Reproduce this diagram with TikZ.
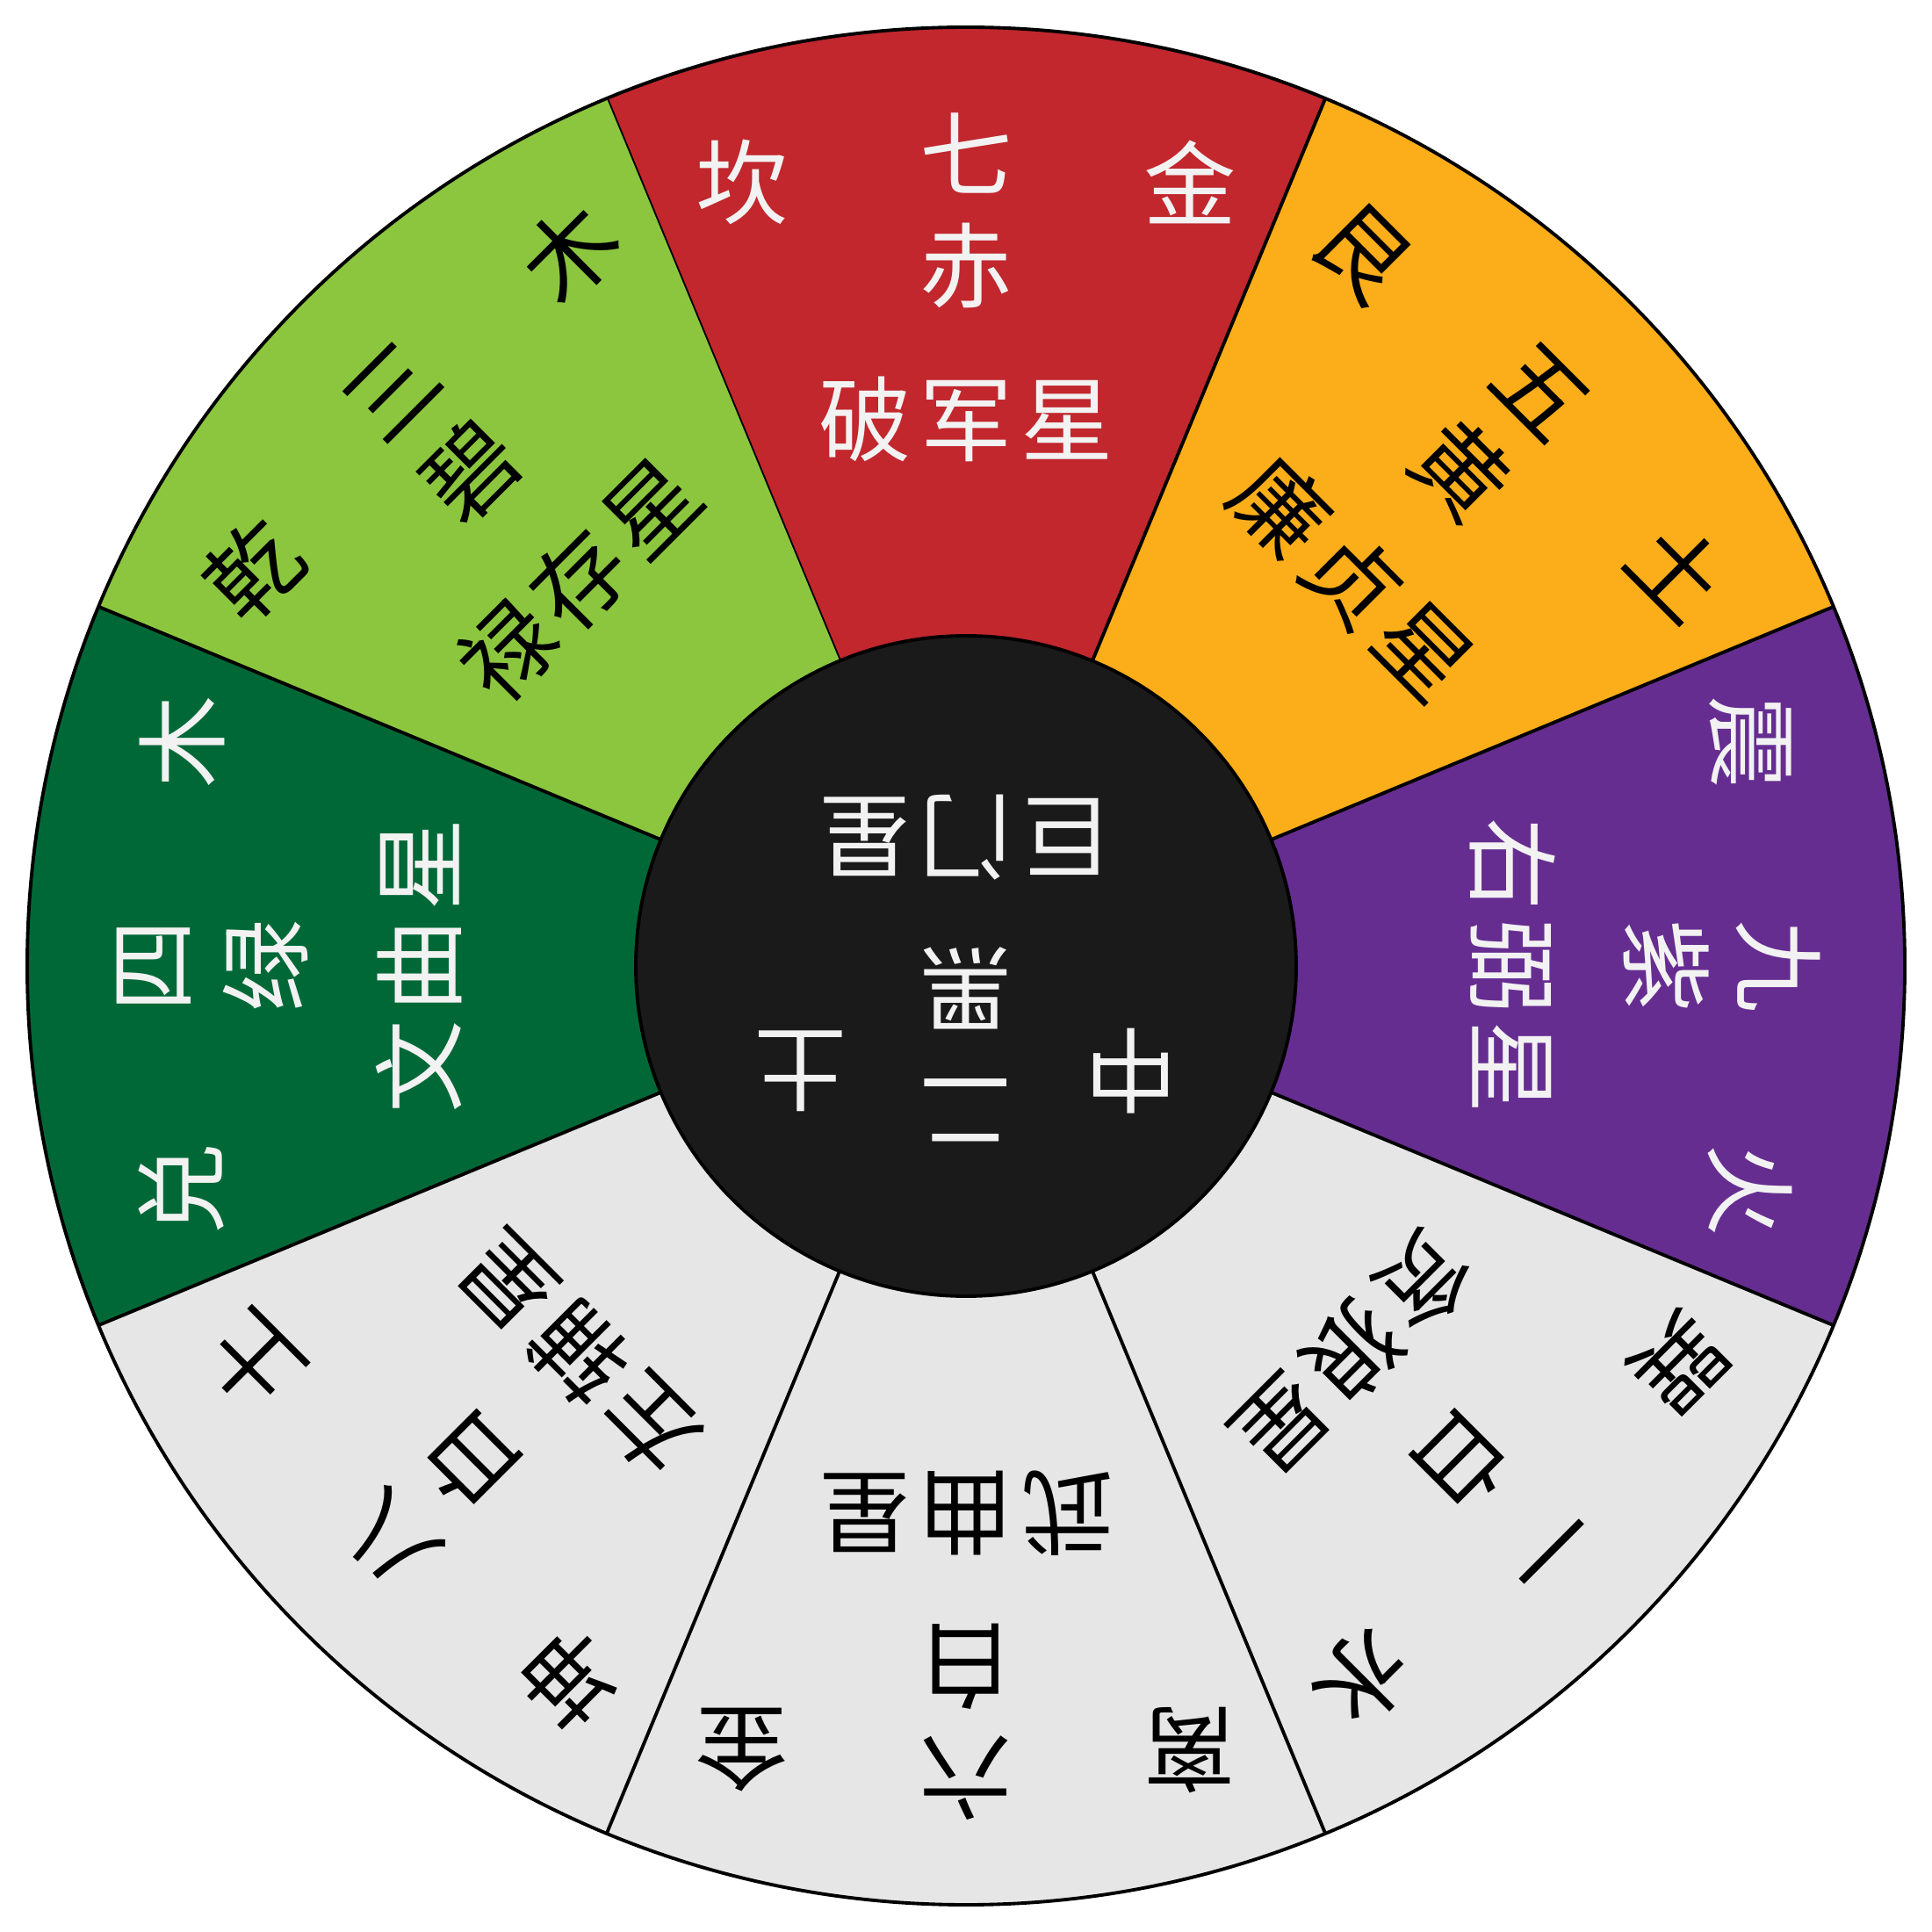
\documentclass[tikz,border=0pt]{standalone}
\usepackage{fontspec}
\newfontfamily\cjk{Noto Sans CJK SC}
\usetikzlibrary{calc}

\definecolor{kanred}{HTML}{C1272D}
\definecolor{genorange}{HTML}{FBAE1A}
\definecolor{zhenpurple}{HTML}{662D91}
\definecolor{palegray}{HTML}{E6E6E6}
\definecolor{duigreen}{HTML}{006837}
\definecolor{qiangreen}{HTML}{8CC63F}
\definecolor{coreblack}{HTML}{1A1A1A}
\definecolor{ink}{HTML}{F2F2F2}

\newcommand{\Rout}{10.69}
\newcommand{\Rin}{3.76}
\newcommand{\trio}[3]{#1\kern2.8pt#2\kern2.8pt#3}

\begin{document}
\begin{tikzpicture}[
  glyph/.style={font=\cjk\fontsize{30}{30}\selectfont, inner sep=0pt},
  wtxt/.style={glyph, text=ink},
  btxt/.style={glyph, text=black},
  rim/.style={line width=1.1pt}]

\useasboundingbox (-11,-11) rectangle (11,11);
\coordinate (O) at (0,0);

% ===== Secteur du haut : kan =====
\begin{scope}[rotate=0, transform shape]
  \fill[kanred] (O) -- (67.5:\Rout) arc (67.5:112.5:\Rout) -- cycle;
  \draw[rim] (O) -- (112.5:\Rout);
  \node[wtxt] (kan-pos) at (-2.55,8.93) {坎};
  \node[wtxt] (kan-num) at (0,9.25) {七};
  \node[wtxt] (kan-el) at (2.55,8.93) {金};
  \node[wtxt] (kan-col) at (0,7.98) {赤};
  \node[wtxt] (kan-star) at (0,6.23) {\trio{破}{军}{星}};
\end{scope}

% ===== gen =====
\begin{scope}[rotate=-45, transform shape]
  \fill[genorange] (O) -- (67.5:\Rout) arc (67.5:112.5:\Rout) -- cycle;
  \draw[rim] (O) -- (112.5:\Rout);
  \node[btxt] (gen-pos) at (-2.55,8.93) {艮};
  \node[btxt] (gen-num) at (0,9.25) {五};
  \node[btxt] (gen-el) at (2.55,8.93) {土};
  \node[btxt] (gen-col) at (0,7.98) {黄};
  \node[btxt] (gen-star) at (0,6.23) {\trio{廉}{贞}{星}};
\end{scope}

% ===== zhen =====
\begin{scope}[rotate=-90, transform shape]
  \fill[zhenpurple] (O) -- (67.5:\Rout) arc (67.5:112.5:\Rout) -- cycle;
  \draw[rim] (O) -- (112.5:\Rout);
  \node[wtxt] (zhen-pos) at (-2.55,8.93) {震};
  \node[wtxt] (zhen-num) at (0,9.25) {九};
  \node[wtxt] (zhen-el) at (2.55,8.93) {火};
  \node[wtxt] (zhen-col) at (0,7.98) {紫};
  \node[wtxt] (zhen-star) at (0,6.23) {\trio{右}{弼}{星}};
\end{scope}

% ===== xun =====
\begin{scope}[rotate=-135, transform shape]
  \fill[palegray] (O) -- (67.5:\Rout) arc (67.5:112.5:\Rout) -- cycle;
  \draw[rim] (O) -- (112.5:\Rout);
  \node[btxt] (xun-pos) at (-2.55,8.93) {巽};
  \node[btxt] (xun-num) at (0,9.25) {一};
  \node[btxt] (xun-el) at (2.55,8.93) {水};
  \node[btxt] (xun-col) at (0,7.98) {白};
  \node[btxt] (xun-star) at (0,6.23) {\trio{贪}{狼}{星}};
\end{scope}

% ===== li =====
\begin{scope}[rotate=180, transform shape]
  \fill[palegray] (O) -- (67.5:\Rout) arc (67.5:112.5:\Rout) -- cycle;
  \draw[rim] (O) -- (112.5:\Rout);
  \node[btxt] (li-pos) at (-2.55,8.93) {离};
  \node[btxt] (li-num) at (0,9.25) {六};
  \node[btxt] (li-el) at (2.55,8.93) {金};
  \node[btxt] (li-col) at (0,7.98) {白};
  \node[btxt] (li-star) at (0,6.23) {\trio{武}{曲}{星}};
\end{scope}

% ===== kun =====
\begin{scope}[rotate=135, transform shape]
  \fill[palegray] (O) -- (67.5:\Rout) arc (67.5:112.5:\Rout) -- cycle;
  \draw[rim] (O) -- (112.5:\Rout);
  \node[btxt] (kun-pos) at (-2.55,8.93) {坤};
  \node[btxt] (kun-num) at (0,9.25) {八};
  \node[btxt] (kun-el) at (2.55,8.93) {土};
  \node[btxt] (kun-col) at (0,7.98) {白};
  \node[btxt] (kun-star) at (0,6.23) {\trio{左}{辅}{星}};
\end{scope}

% ===== dui =====
\begin{scope}[rotate=90, transform shape]
  \fill[duigreen] (O) -- (67.5:\Rout) arc (67.5:112.5:\Rout) -- cycle;
  \draw[rim] (O) -- (112.5:\Rout);
  \node[wtxt] (dui-pos) at (-2.55,8.93) {兑};
  \node[wtxt] (dui-num) at (0,9.25) {四};
  \node[wtxt] (dui-el) at (2.55,8.93) {木};
  \node[wtxt] (dui-col) at (0,7.98) {绿};
  \node[wtxt] (dui-star) at (0,6.23) {\trio{文}{曲}{星}};
\end{scope}

% ===== qian =====
\begin{scope}[rotate=45, transform shape]
  \fill[qiangreen] (O) -- (67.5:\Rout) arc (67.5:112.5:\Rout) -- cycle;
  \draw[rim] (O) -- (112.5:\Rout);
  \node[btxt] (qian-pos) at (-2.55,8.93) {乾};
  \node[btxt] (qian-num) at (0,9.25) {三};
  \node[btxt] (qian-el) at (2.55,8.93) {木};
  \node[btxt] (qian-col) at (0,7.98) {碧};
  \node[btxt] (qian-star) at (0,6.23) {\trio{禄}{存}{星}};
\end{scope}

% cercle exterieur
\draw[rim] (O) circle (\Rout);

% ===== Centre =====
\filldraw[fill=coreblack, rim] (O) circle (\Rin);
\begin{scope}[rotate=180, transform shape]
  \node[wtxt] (zhong-pos) at (-1.88,1.2) {中};
  \node[wtxt] (zhong-num) at (0,1.63) {二};
  \node[wtxt] (zhong-el) at (1.88,1.2) {土};
  \node[wtxt] (zhong-col) at (0,0.25) {黑};
  \node[wtxt] (zhong-star) at (0,-1.46) {\trio{巨}{门}{星}};
\end{scope}

\end{tikzpicture}
\end{document}
